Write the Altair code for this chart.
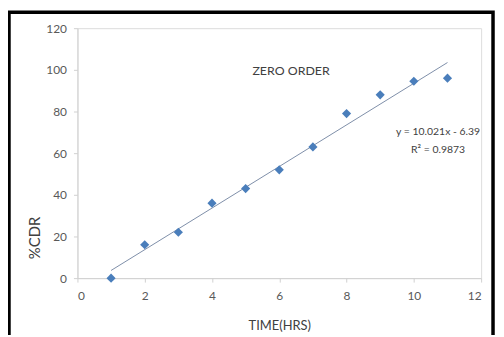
import altair as alt
import pandas as pd

# data
time_hrs = [1, 2, 3, 4, 5, 6, 7, 8, 9, 10, 11]
cdr_pct = [0, 16, 22, 36, 43, 52, 63, 79, 88, 94.5, 96]

chart_title = ["ZERO ORDER"]
title_x = [6.35]
title_y = [99.5]

eq_lines = ["y = 10.021x - 6.39", "R² = 0.9873"]
eq_x = [10.72, 10.72]
eq_y = [70, 61.4]

df = pd.DataFrame({"t": time_hrs, "cdr": cdr_pct})
ann = pd.DataFrame({"label": chart_title, "x": title_x, "y": title_y})
eq = pd.DataFrame({"label": eq_lines, "x": eq_x, "y": eq_y})

FONT = "Lato"
GRAY = "#595959"

xscale = alt.Scale(domain=[0, 12], nice=False, zero=False)
yscale = alt.Scale(domain=[0, 120], nice=False)

xaxis = alt.Axis(values=list(range(0, 13, 2)), title="TIME(HRS)", grid=False,
                 domainColor="#d0d0d0", tickColor="#d0d0d0", tickSize=4,
                 labelColor=GRAY, labelFont=FONT, labelFontSize=12, labelPadding=9,
                 titleColor="#404040", titleFont=FONT, titleFontSize=13,
                 titleFontWeight="normal", titleY=48, titleBaseline="middle")
yaxis = alt.Axis(values=list(range(0, 121, 20)), title="%CDR", grid=False,
                 domainColor="#d0d0d0", tickColor="#d0d0d0", tickSize=4,
                 labelColor=GRAY, labelFont=FONT, labelFontSize=12, labelPadding=7,
                 titleColor="#404040", titleFont=FONT, titleFontSize=15,
                 titleFontWeight="normal", titleX=-43, titleY=211,
                 titleAngle=270, titleBaseline="middle", titleAlign="center")

base = alt.Chart(df)

trend = base.transform_regression("t", "cdr", method="linear").mark_line(
    color="#7d8ea8", strokeWidth=1
).encode(x=alt.X("t:Q", scale=xscale, axis=xaxis),
         y=alt.Y("cdr:Q", scale=yscale, axis=yaxis))

points = base.mark_point(shape="diamond", filled=True, size=85, color="#4a7ebb", opacity=1).encode(
    x=alt.X("t:Q", scale=xscale), y=alt.Y("cdr:Q", scale=yscale))

title_txt = alt.Chart(ann).mark_text(font=FONT, fontSize=12.5, color="#404040").encode(
    x=alt.X("x:Q", scale=xscale), y=alt.Y("y:Q", scale=yscale), text="label:N")

eq_txt = alt.Chart(eq).mark_text(font=FONT, fontSize=10.5, color="#404040").encode(
    x=alt.X("x:Q", scale=xscale), y=alt.Y("y:Q", scale=yscale), text="label:N")

frame = alt.Chart(ann).mark_rect(fill=None, stroke="black", strokeWidth=3.5, clip=False).encode(
    x=alt.value(-69), x2=alt.value(419), y=alt.value(-16), y2=alt.value(330))

chart = alt.layer(trend, points, title_txt, eq_txt, frame).properties(
    width=407, height=252,
    autosize=alt.AutoSizeParams(type="none"),
    padding={"left": 70, "top": 19, "right": 15, "bottom": 56},
).configure_view(stroke=None).configure(background="white")

chart.save("out.html", embed_options={"renderer": "svg", "actions": False})
